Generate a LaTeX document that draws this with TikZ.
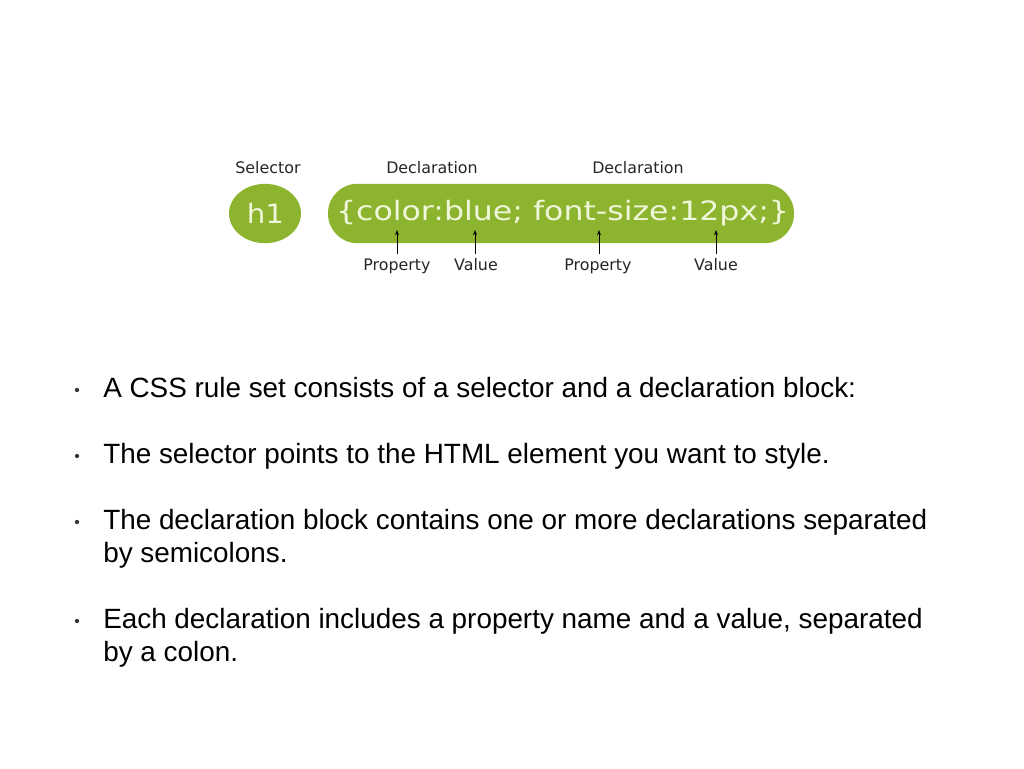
\documentclass[tikz,border=0pt]{standalone}
\usepackage{fontspec}
\setmainfont{Liberation Sans}
\newfontfamily\verd{DejaVu Sans}
\usetikzlibrary{shapes.geometric,arrows.meta}
\definecolor{cssgreen}{HTML}{8DB42E}
\definecolor{codetext}{HTML}{F0F6DA}
\tikzset{
  lbl/.style={font=\verd\fontsize{11.9}{14}\selectfont, text=black!85, inner sep=0pt, anchor=base},
  pointer/.style={-{Stealth[length=4pt,width=3pt]}, line width=0.6pt, black},
  bullettext/.style={font=\fontsize{20.9}{24.75}\selectfont, anchor=base west, inner sep=0pt, align=left},
  dot/.style={circle, fill=black!80, inner sep=0pt, minimum size=3.2pt}
}
\begin{document}
\begin{tikzpicture}[x=0.75pt,y=-0.75pt]
\useasboundingbox[fill=white] (0,0) rectangle (1024,768);
% selector
\node[ellipse, fill=cssgreen, minimum width=54pt, minimum height=44.5pt, inner sep=0pt] (sel) at (265,213.5) {};
\node[font=\verd\fontsize{20}{24}\selectfont, text=codetext, inner sep=0pt] (seltxt) at (265.5,213.5) {\scalebox{1.1}[1]{h1}};
% declaration block
\node[fill=cssgreen, rounded corners=22pt, minimum width=349.5pt, minimum height=44.5pt, inner sep=0pt] (decl) at (561,213.5) {};
\node[font=\verd\fontsize{20}{24}\selectfont, text=codetext, inner sep=0pt] (decltxt) at (562.5,213.5) {\scalebox{1.185}[1]{\{color:blue; font-size:12px;\}}};
% top labels
\node[lbl] (lsel) at (268,173) {Selector};
\node[lbl] (ldec1) at (432,173) {Declaration};
\node[lbl] (ldec2) at (638,173) {Declaration};
% bottom labels
\node[lbl] (p1) at (397,270) {Property};
\node[lbl] (v1) at (476,270) {Value};
\node[lbl] (p2) at (598,270) {Property};
\node[lbl] (v2) at (716,270) {Value};
\coordinate (t1) at (397,230);
\coordinate (t2) at (475,230);
\coordinate (t3) at (599,230);
\coordinate (t4) at (716,230);
\coordinate (f1) at (397,254);
\coordinate (f2) at (475,254);
\coordinate (f3) at (599,254);
\coordinate (f4) at (716,254);
\draw[pointer] (f1) -- (t1);
\draw[pointer] (f2) -- (t2);
\draw[pointer] (f3) -- (t3);
\draw[pointer] (f4) -- (t4);
% bullets
\node[dot] (b1) at (77,390) {};
\node[bullettext] (s1) at (103,397.5) {A CSS rule set consists of a selector and a declaration block:};
\node[dot] (b2) at (77,456) {};
\node[bullettext] (s2) at (103,463.5) {The selector points to the HTML element you want to style.};
\node[dot] (b3) at (77,522) {};
\node[bullettext] (s3) at (103,562.5) {The declaration block contains one or more declarations separated\\by semicolons.};
\node[dot] (b4) at (77,621) {};
\node[bullettext] (s4) at (103,661.5) {Each declaration includes a property name and a value, separated\\by a colon.};
\end{tikzpicture}
\end{document}
